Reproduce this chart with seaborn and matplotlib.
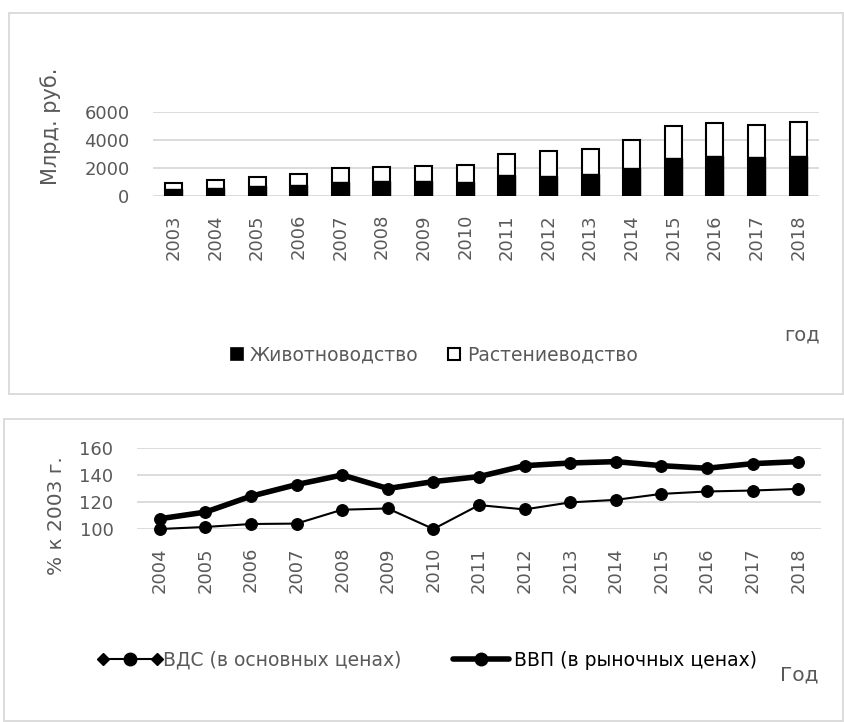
import matplotlib
matplotlib.use("Agg")
import matplotlib.pyplot as plt
from matplotlib.patches import Rectangle, Patch
from matplotlib.lines import Line2D
from matplotlib.legend_handler import HandlerBase
import seaborn as sns
import pandas as pd

# ---------------- data ----------------
years_top = [2003, 2004, 2005, 2006, 2007, 2008, 2009, 2010,
             2011, 2012, 2013, 2014, 2015, 2016, 2017, 2018]
livestock = [480, 600, 720, 816, 1008, 1100, 1056, 1008,
             1510, 1460, 1560, 2020, 2710, 2830, 2780, 2830]
crops = [480, 550, 670, 744, 982, 990, 1084, 1172,
         1470, 1760, 1780, 1990, 2280, 2350, 2310, 2450]

years_bot = [2004, 2005, 2006, 2007, 2008, 2009, 2010, 2011,
             2012, 2013, 2014, 2015, 2016, 2017, 2018]
vds = [100, 101.5, 103.7, 104, 114.3, 115.2, 100, 117.7,
       114.5, 119.7, 121.6, 126, 127.8, 128.5, 129.7]
vvp = [107.6, 112.5, 124.3, 132.9, 140, 130, 135.1, 138.8,
       146.9, 148.9, 149.9, 146.9, 145, 148.4, 149.9]

top_series = ["Животноводство", "Растениеводство"]
bot_series = ["ВДС (в основных ценах)", "ВВП (в рыночных ценах)"]

# ---------------- style ----------------
sns.set_theme(style="white")
plt.rcParams['font.family'] = ['DejaVu Sans']
GRAY = "#595959"
GRID = "#d9d9d9"

W, H = 844, 722
fig = plt.figure(figsize=(W / 100, H / 100), dpi=100)


def ax_rect(x0, y0, x1, y1):
    return [x0 / W, 1 - y1 / H, (x1 - x0) / W, (y1 - y0) / H]


# panel borders
for (x0, y0, x1, y1) in [(8.5, 12.5, 843, 393.7), (4, 418.7, 843, 721)]:
    fig.patches.append(Rectangle((x0 / W, 1 - y1 / H), (x1 - x0) / W, (y1 - y0) / H,
                                 transform=fig.transFigure, fill=False,
                                 edgecolor=GRID, linewidth=1.3))

# ---------------- top chart ----------------
ax1 = fig.add_axes(ax_rect(153, 112, 819, 196))
total = [a + b for a, b in zip(livestock, crops)]
df_top = pd.DataFrame({"year": [str(y) for y in years_top],
                       "total": total, "livestock": livestock})
sns.barplot(data=df_top, x="year", y="total", color="white", saturation=1,
            edgecolor="black", linewidth=1.5, width=0.41, ax=ax1, zorder=3)
sns.barplot(data=df_top, x="year", y="livestock", color="black", saturation=1,
            edgecolor="black", linewidth=1.0, width=0.41, ax=ax1, zorder=4)
ax1.set_ylim(0, 6000)
ax1.set_xlim(-0.5, len(years_top) - 0.5)
ax1.set_yticks([0, 2000, 4000, 6000])
ax1.yaxis.grid(True, color=GRID, linewidth=1.3)
ax1.set_axisbelow(True)
for s in ax1.spines.values():
    s.set_visible(False)
ax1.set_xlabel("")
ax1.set_ylabel("")
ax1.tick_params(axis="y", length=0, pad=17, labelsize=13, labelcolor=GRAY)
ax1.tick_params(axis="x", length=0, pad=13, labelsize=13, labelcolor=GRAY,
                labelrotation=90)

fig.text(51 / W, 1 - 126 / H, "Млрд. руб.", rotation=90, ha="center", va="center",
         fontsize=15, color=GRAY)
fig.text(802 / W, 1 - 335 / H, "год", ha="center", va="center",
         fontsize=14, color=GRAY)

top_handles = [Patch(facecolor="black", edgecolor="black", linewidth=1.2),
               Patch(facecolor="white", edgecolor="black", linewidth=1.5)]
leg1 = fig.legend(top_handles, top_series, loc="center",
                  bbox_to_anchor=(434 / W, 1 - 355 / H), ncol=2, frameon=False,
                  fontsize=13.5, handlelength=0.65, handleheight=0.65,
                  handletextpad=0.35, columnspacing=1.6)
for t in leg1.get_texts():
    t.set_color(GRAY)

# ---------------- bottom chart ----------------
ax2 = fig.add_axes(ax_rect(137, 448, 821, 529))
df_bot = pd.DataFrame({"year": years_bot * 2,
                       "value": vds + vvp,
                       "series": [bot_series[0]] * len(vds) + [bot_series[1]] * len(vvp)})
sns.lineplot(data=df_bot, x="year", y="value", hue="series", size="series",
             sizes={bot_series[0]: 1.5, bot_series[1]: 4.0},
             palette={bot_series[0]: "black", bot_series[1]: "black"},
             marker="o", markersize=8.5, markeredgecolor="black",
             ax=ax2, legend=False, clip_on=False, zorder=3)
ax2.set_xlim(years_bot[0] - 0.5, years_bot[-1] + 0.5)
ax2.set_ylim(100, 160)
ax2.set_xticks(years_bot)
ax2.set_xticklabels([str(y) for y in years_bot])
ax2.set_yticks([100, 120, 140, 160])
ax2.yaxis.grid(True, color=GRID, linewidth=1.3)
ax2.xaxis.grid(False)
ax2.set_axisbelow(True)
for s in ax2.spines.values():
    s.set_visible(False)
ax2.set_xlabel("")
ax2.set_ylabel("")
ax2.tick_params(axis="y", length=0, pad=17, labelsize=13, labelcolor=GRAY)
ax2.tick_params(axis="x", length=0, pad=13, labelsize=13, labelcolor=GRAY,
                labelrotation=90)

fig.text(56 / W, 1 - 516 / H, "% к 2003 г.", rotation=90, ha="center", va="center",
         fontsize=14.5, color=GRAY)
fig.text(799 / W, 1 - 675 / H, "Год", ha="center", va="center",
         fontsize=14.5, color=GRAY)


class DiamondCircleHandler(HandlerBase):
    def create_artists(self, legend, orig_handle, xdescent, ydescent,
                       width, height, fontsize, trans):
        y = height / 2 - ydescent
        x0, x1 = -xdescent + 3, width - xdescent - 3
        line = Line2D([x0, x1], [y, y], color="black", lw=1.5, transform=trans)
        ends = Line2D([x0, x1], [y, y], ls="none", marker="D", ms=6,
                      color="black", transform=trans)
        mid = Line2D([(x0 + x1) / 2], [y], ls="none", marker="o", ms=9,
                     color="black", transform=trans)
        return [line, ends, mid]


class ThickCircleHandler(HandlerBase):
    def create_artists(self, legend, orig_handle, xdescent, ydescent,
                       width, height, fontsize, trans):
        y = height / 2 - ydescent
        x0, x1 = -xdescent + 2, width - xdescent - 2
        line = Line2D([x0, x1], [y, y], color="black", lw=4,
                      solid_capstyle="round", transform=trans)
        mid = Line2D([(x0 + x1) / 2], [y], ls="none", marker="o", ms=9,
                     color="black", transform=trans)
        return [line, mid]


h_vds = Line2D([], [], color="black")
h_vvp = Line2D([], [], color="black", lw=4)
leg2 = fig.legend([h_vds, h_vvp], bot_series, loc="center",
                  bbox_to_anchor=(428 / W, 1 - 660 / H), ncol=2, frameon=False,
                  fontsize=13.5, handlelength=3.3, handletextpad=0.1,
                  columnspacing=2.6,
                  handler_map={h_vds: DiamondCircleHandler(),
                               h_vvp: ThickCircleHandler()})
texts = leg2.get_texts()
texts[0].set_color(GRAY)
texts[1].set_color("black")

fig.savefig("out.png", dpi=100)
